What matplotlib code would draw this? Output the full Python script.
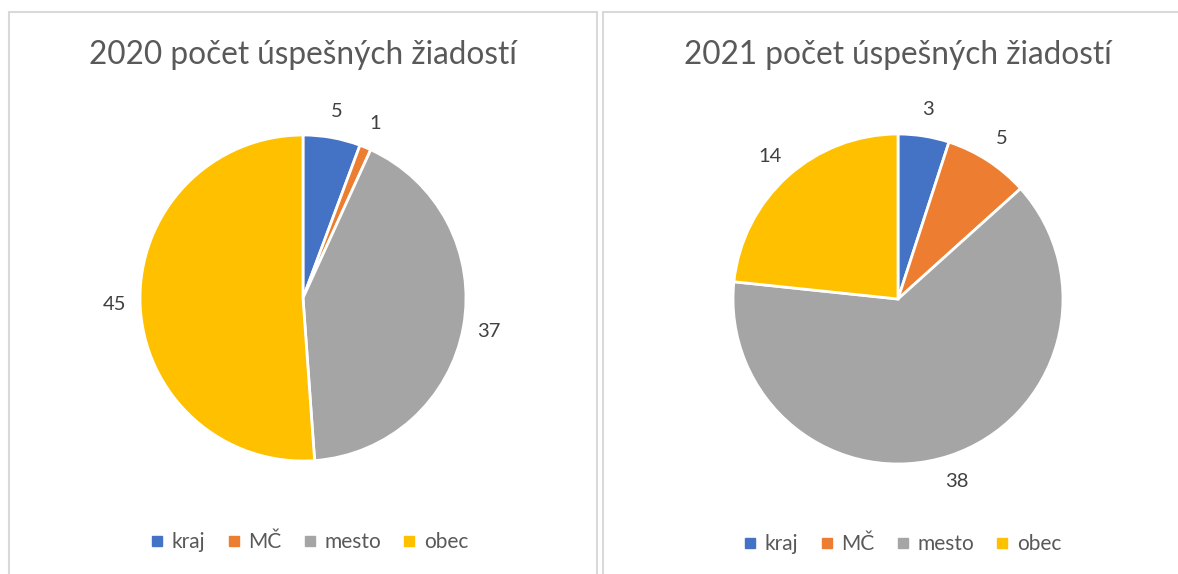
import matplotlib
matplotlib.use("Agg")
import matplotlib.pyplot as plt
from matplotlib.patches import Rectangle
from matplotlib.lines import Line2D

categories = ["kraj", "MČ", "mesto", "obec"]
values_2020 = [5, 1, 37, 45]
values_2021 = [3, 5, 38, 14]
titles = ["2020 počet úspešných žiadostí", "2021 počet úspešných žiadostí"]
colors = ["#4472C4", "#ED7D31", "#A5A5A5", "#FFC000"]

W, H = 1178, 574
plt.rcParams['font.family'] = ['Lato', 'DejaVu Sans']
fig = plt.figure(figsize=(W / 100, H / 100), dpi=100)
fig.patch.set_facecolor("white")

# panel borders
for (x0, x1) in [(9, 597), (603, 1200)]:
    fig.patches.append(Rectangle((x0 / W, -0.1), (x1 - x0) / W, (H - 12) / H + 0.1,
                                 transform=fig.transFigure, fill=False,
                                 edgecolor="#D9D9D9", linewidth=1.5))

text_color = "#595959"

def draw(cx, cy, R, vals, title, tx, ty, lx, ly):
    L = 1.4
    ax = fig.add_axes([(cx - L * R) / W, 1 - (cy + L * R) / H, 2 * L * R / W, 2 * L * R / H])
    wedges, texts = ax.pie(vals, colors=colors, startangle=90, counterclock=False,
                           labels=[str(v) for v in vals], labeldistance=1.16,
                           wedgeprops=dict(edgecolor="white", linewidth=2),
                           textprops=dict(color="#404040", fontsize=14.5))
    for t in texts:
        t.set_ha("center"); t.set_va("center")
    ax.set_xlim(-L, L); ax.set_ylim(-L, L)
    ax.set_aspect("equal")
    ax.axis("off")
    fig.text(tx / W, 1 - ty / H, title, ha="center", va="center",
             fontsize=22.7, color=text_color)
    handles = [Line2D([], [], marker="s", linestyle="none", markersize=7,
                      markerfacecolor=c, markeredgecolor=c) for c in colors]
    fig.legend(handles, categories, loc="center", bbox_to_anchor=(lx / W, 1 - ly / H),
               ncol=4, frameon=False, fontsize=15, handletextpad=0.25,
               columnspacing=0.9, handlelength=0.9, labelcolor=text_color)

draw(303, 298, 163, values_2020, titles[0], 303, 55, 308, 542)
draw(898, 299, 165, values_2021, titles[1], 898, 55, 901, 544)

fig.savefig("out.png", dpi=100, facecolor="white")
